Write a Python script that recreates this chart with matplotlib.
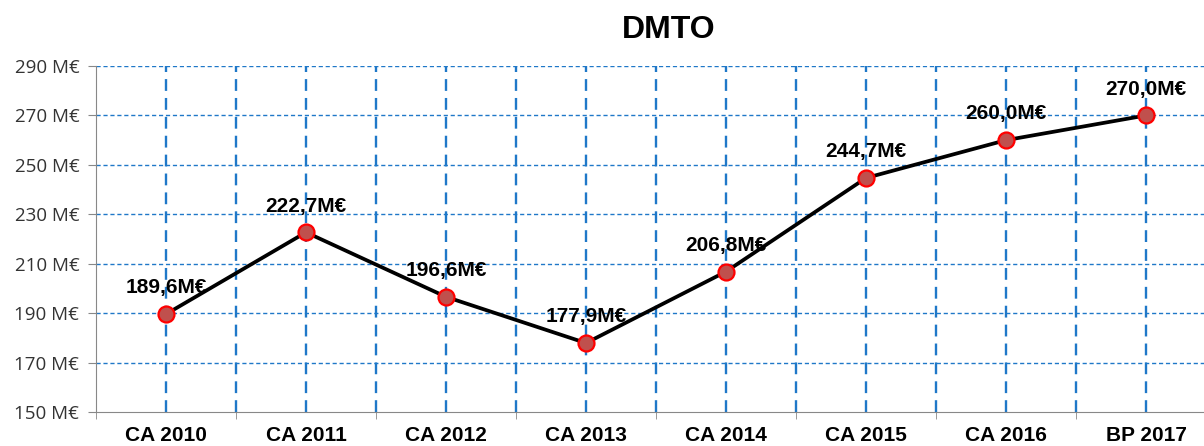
import matplotlib.pyplot as plt
from matplotlib.ticker import FixedLocator

categories = ['CA 2010', 'CA 2011', 'CA 2012', 'CA 2013', 'CA 2014', 'CA 2015', 'CA 2016', 'BP 2017']
values = [189.6, 222.7, 196.6, 177.9, 206.8, 244.7, 260.0, 270.0]
yticks = [150, 170, 190, 210, 230, 250, 270, 290]

plt.rcParams['font.family'] = ['Liberation Sans', 'DejaVu Sans']

fig = plt.figure(figsize=(12.04, 4.46), dpi=100)
ax = fig.add_axes([96 / 1204, 34 / 446, 1120 / 1204, 346 / 446])

x = list(range(len(categories)))
ax.set_xlim(-0.5, len(categories) - 0.5)
ax.set_ylim(150, 290)

# grid: horizontal short dashes, vertical long dashes at centres and boundaries
for y in yticks[1:]:
    ax.axhline(y, color='#1f78c8', lw=1.0, ls=(0, (3, 2)), zorder=1)
for i in range(len(categories) * 2):
    ax.axvline(i * 0.5, color='#1f78c8', lw=1.7, ls=(0, (5, 3)), zorder=1)

ax.plot(x, values, color='black', lw=2.7, zorder=3,
        marker='o', markersize=11.5, markerfacecolor='#c0504d',
        markeredgecolor='#ff0000', markeredgewidth=1.6)

for xi, v in zip(x, values):
    ax.annotate(f'{v:.1f}'.replace('.', ',') + 'M€', (xi, v), xytext=(0, 12),
                textcoords='offset points', ha='center', va='bottom',
                fontsize=15, fontweight='bold', zorder=4)

ax.set_yticks(yticks)
ax.set_yticklabels([f'{t} M€' for t in yticks], fontsize=13.5, color='#333333',
                   family=['Open Sans', 'DejaVu Sans'])
ax.set_xticks(x)
ax.set_xticklabels(categories, fontsize=15, fontweight='bold')
ax.tick_params(axis='x', which='major', length=0, pad=10)
ax.xaxis.set_minor_locator(FixedLocator([i + 0.5 for i in range(-1, len(categories))]))
ax.tick_params(axis='x', which='minor', length=5, color='#888888')
ax.tick_params(axis='y', length=6, color='#888888', pad=6)

for s in ['top', 'right']:
    ax.spines[s].set_visible(False)
ax.spines['left'].set_color('#888888')
ax.spines['bottom'].set_color('#888888')

fig.text(0.555, 0.933, 'DMTO', ha='center', va='center', fontsize=23, fontweight='bold')

fig.savefig('out.png', dpi=100)
